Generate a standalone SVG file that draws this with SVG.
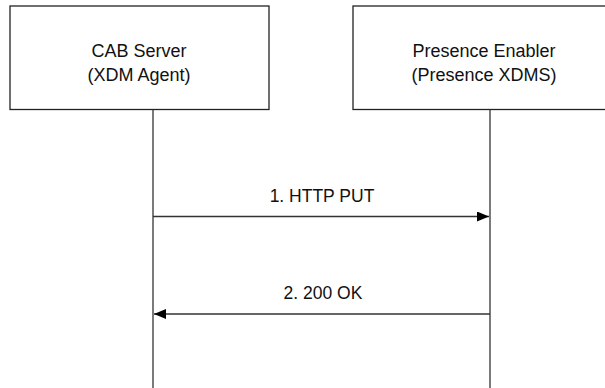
<svg xmlns="http://www.w3.org/2000/svg" width="605" height="388" viewBox="0 0 605 388">
<style>
.box{fill:#fff;stroke:#222;stroke-width:1.3}
.life{stroke:#333;stroke-width:1.3;fill:none}
.msg{stroke:#333;stroke-width:1.3;fill:none}
text{font-family:"Liberation Sans",Arial,sans-serif;font-size:18px;fill:#111;text-anchor:middle}
.lbl{font-size:17.5px}
</style>
<defs>
<marker id="ah" viewBox="0 0 12 10" refX="12" refY="5" markerWidth="12" markerHeight="10" markerUnits="userSpaceOnUse" orient="auto">
<path d="M0,0 L12,5 L0,10 Z" fill="#000"/>
</marker>
</defs>
<g id="cab">
<rect class="box" x="10" y="6" width="259" height="103.5"/>
<text x="139" y="57">CAB Server</text>
<text x="139" y="81">(XDM Agent)</text>
</g>
<g id="presence">
<rect class="box" x="353" y="6" width="262" height="103.5"/>
<text x="484" y="57">Presence Enabler</text>
<text x="484" y="81">(Presence XDMS)</text>
</g>
<g id="connectors">
<line class="life" x1="153" y1="109.5" x2="153" y2="388"/>
<line class="life" x1="490" y1="109.5" x2="490" y2="388"/>
<line class="msg" x1="153" y1="216.5" x2="489" y2="216.5" marker-end="url(#ah)"/>
<text class="lbl" x="322" y="202">1. HTTP PUT</text>
<line class="msg" x1="490" y1="314" x2="154" y2="314" marker-end="url(#ah)"/>
<text class="lbl" x="323" y="299">2. 200 OK</text>
</g>
</svg>
